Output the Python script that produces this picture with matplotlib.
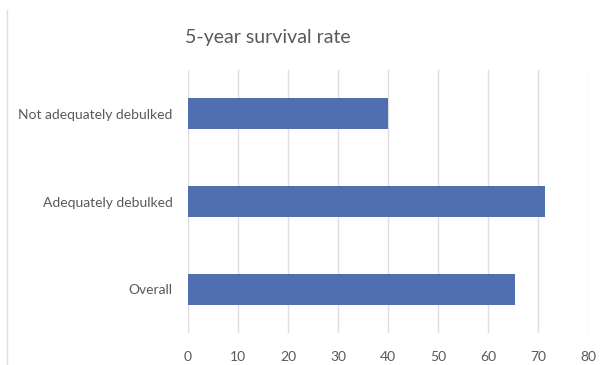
import matplotlib
matplotlib.use("Agg")
import matplotlib.pyplot as plt
from matplotlib.lines import Line2D

categories = ["Overall", "Adequately debulked", "Not adequately debulked"]
survival = [65.4, 71.4, 40.0]
x_ticks = [0, 10, 20, 30, 40, 50, 60, 70, 80]

plt.rcParams["font.family"] = ["Lato", "DejaVu Sans"]

fig = plt.figure(figsize=(6.03, 3.65), dpi=100)
ax = fig.add_axes([188 / 603, 1 - 333 / 365, (588 - 188) / 603, (333 - 70) / 365])

ax.barh(range(len(categories)), survival, height=0.35, color="#4F6FB1", zorder=3)

ax.set_xlim(0, 80)
ax.set_ylim(-0.5, len(categories) - 0.5)
ax.set_xticks(x_ticks)
ax.set_yticks(range(len(categories)))
ax.set_yticklabels(categories)
ax.tick_params(axis="both", length=0, colors="#595959", labelsize=10)
ax.tick_params(axis="x", pad=13)
ax.tick_params(axis="y", pad=11)
ax.grid(axis="x", color="#DEDEDE", linewidth=1, zorder=0)
for s in ax.spines.values():
    s.set_visible(False)

fig.text(268 / 603, 1 - 38 / 365, "5-year survival rate", ha="center", va="center",
         fontsize=14, color="#595959")

# faint chart-area border on the left
fig.add_artist(Line2D([7 / 603, 7 / 603], [0, 1 - 10 / 365], color="#DEDEDE", linewidth=1))

fig.savefig("out.png", dpi=100)
